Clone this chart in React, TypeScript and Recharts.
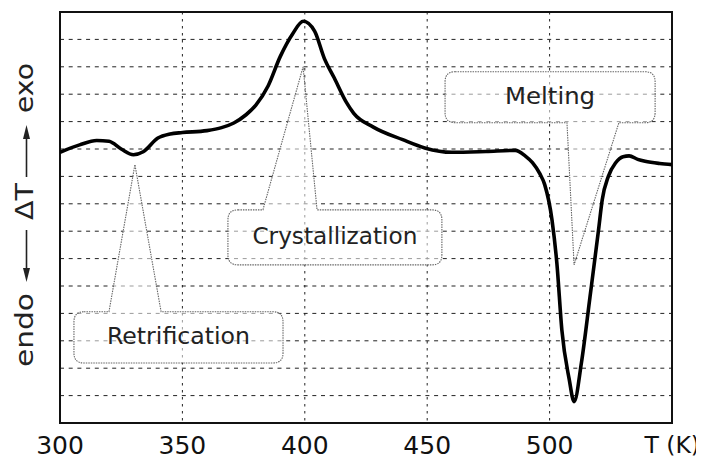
import { LineChart, Line, XAxis, YAxis, CartesianGrid, ReferenceArea } from "recharts";

// temperature (K) and DTA signal (grid units, 0 = bottom of frame)
const temps = [
  300, 308, 315, 320, 325, 330, 334, 340, 345, 350, 360, 366, 371, 376, 380, 385, 390, 395, 399.4,
  404, 408, 412, 417, 420, 428, 440, 449, 460, 474, 486, 490, 493, 496, 498, 501, 503, 505, 508,
  510, 513, 516.5, 520, 521.5, 524, 527, 530, 532.5, 536, 539, 545, 550,
];
const signal = [
  9.88, 10.15, 10.31, 10.28, 10.0, 9.79, 9.9, 10.4, 10.55, 10.6, 10.67, 10.78, 10.95, 11.25, 11.6,
  12.3, 13.38, 14.2, 14.66, 14.3, 13.3, 12.6, 11.7, 11.3, 10.8, 10.34, 10.04, 9.88, 9.91, 9.95,
  9.75, 9.5, 9.1, 8.7, 7.4, 5.8, 3.4, 1.6, 0.78, 2.2, 4.6, 7.05, 8.15, 9.0, 9.5, 9.72, 9.75, 9.62,
  9.55, 9.47, 9.43,
];
const xTicks = [300, 350, 400, 450, 500, 550];
const yTicks = [0, 1, 2, 3, 4, 5, 6, 7, 8, 9, 10, 11, 12, 13, 14, 15];

// callout boxes, in data units
const callouts = [
  { label: "Retrification", x1: 305.7, x2: 391.1, top: 4.06, bottom: 2.19, tipT: 330.6, tipV: 9.43, b1: 320, b2: 341.3, side: "top", len: 143 },
  { label: "Crystallization", x1: 368.6, x2: 456.0, top: 7.78, bottom: 5.77, tipT: 399.3, tipV: 13.0, b1: 382.9, b2: 405, side: "top", len: 165 },
  { label: "Melting", x1: 457.3, x2: 543.1, top: 12.82, bottom: 10.96, tipT: 510, tipV: 5.77, b1: 507.1, b2: 528.3, side: "bottom", len: 90 },
];

const data = temps.map((t, i) => ({ t, v: signal[i] }));
const FONT = "'DejaVu Sans', sans-serif";

function renderCallout(p: any, c: any) {
  const { x, y, width, height } = p;
  const sx = (t: number) => x + ((t - c.x1) / (c.x2 - c.x1)) * width;
  const sy = (v: number) => y + ((c.top - v) / (c.top - c.bottom)) * height;
  const L = x, R = x + width, T = y, B = y + height, r = 10;
  const tx = sx(c.tipT), ty = sy(c.tipV), b1 = sx(c.b1), b2 = sx(c.b2);
  let d = `M${L + r},${T}`;
  if (c.side === "top") d += ` L${b1},${T} L${tx},${ty} L${b2},${T}`;
  d += ` L${R - r},${T} Q${R},${T} ${R},${T + r} L${R},${B - r} Q${R},${B} ${R - r},${B}`;
  if (c.side === "bottom") d += ` L${b2},${B} L${tx},${ty} L${b1},${B}`;
  d += ` L${L + r},${B} Q${L},${B} ${L},${B - r} L${L},${T + r} Q${L},${T} ${L + r},${T} Z`;
  return (
    <g>
      <path d={d} fill="#fff" fillOpacity={0.55} stroke="#666" strokeWidth={1.1} strokeDasharray="1.5 1" />
      <text
        x={(L + R) / 2}
        y={(T + B) / 2 + 7}
        textAnchor="middle"
        fontFamily={FONT}
        fontSize={23}
        fill="#222"
        textLength={c.len}
        lengthAdjust="spacingAndGlyphs"
      >
        {c.label}
      </text>
    </g>
  );
}

function XTick(props: any) {
  const { x, y, payload } = props;
  const last = payload.value === 550;
  return (
    <text
      x={last ? x + 28 : x}
      y={y}
      dy="0.71em"
      textAnchor={last ? "end" : "middle"}
      fontFamily={FONT}
      fontSize={last ? 23.5 : 25}
      fill="#111"
    >
      {last ? "T (K)" : String(payload.value)}
    </text>
  );
}

function YTitle() {
  const bx = 25;
  const ax = 18.5;
  const word = (s: string, cy: number, len: number) => (
    <text
      transform={`translate(${bx},${cy}) rotate(-90)`}
      textAnchor="middle"
      fontFamily={FONT}
      fontSize={24}
      fill="#222"
      textLength={len}
      lengthAdjust="spacingAndGlyphs"
    >
      {s}
    </text>
  );
  return (
    <g>
      {word("exo", 80, 50)}
      <line x1={ax} y1={169} x2={ax} y2={128} stroke="#222" strokeWidth={1.6} />
      <path d={`M${ax},117 L${ax - 3.5},131 L${ax + 3.5},131 Z`} fill="#222" />
      {word("ΔT", 193.5, 37)}
      <line x1={ax} y1={222} x2={ax} y2={263} stroke="#222" strokeWidth={1.6} />
      <path d={`M${ax},274 L${ax - 3.5},260 L${ax + 3.5},260 Z`} fill="#222" />
      {word("endo", 322, 74)}
    </g>
  );
}

export default function App() {
  return (
    <LineChart width={696} height={453} data={data} margin={{ top: 4, right: 32, bottom: 0, left: 0 }}>
      <CartesianGrid vertical={false} stroke="#222" strokeDasharray="4 4.7" />
      <CartesianGrid horizontal={false} stroke="#222" strokeDasharray="2.5 4.5" />
      <XAxis
        dataKey="t"
        type="number"
        domain={[300, 550]}
        ticks={xTicks}
        allowDataOverflow
        height={38}
        axisLine={false}
        tickLine={false}
        tickSize={0}
        tickMargin={13}
        interval={0}
        tick={<XTick />}
      />
      <YAxis
        type="number"
        domain={[0, 15]}
        ticks={yTicks}
        interval={0}
        width={52}
        axisLine={false}
        tickLine={false}
        tick={() => <g />}
        label={{ content: () => <YTitle /> }}
      />
      {callouts.map((c) => (
        <ReferenceArea
          key={c.label}
          x1={c.x1}
          x2={c.x2}
          y1={c.bottom}
          y2={c.top}
          ifOverflow="visible"
          shape={(p: any) => renderCallout(p, c)}
        />
      ))}
      <ReferenceArea x1={300} x2={550} y1={0} y2={15} fill="none" stroke="#111" strokeWidth={2} ifOverflow="visible" />
      <Line
        type="monotone"
        dataKey="v"
        stroke="#000"
        strokeWidth={3.6}
        dot={false}
        activeDot={false}
        isAnimationActive={false}
      />
    </LineChart>
  );
}
